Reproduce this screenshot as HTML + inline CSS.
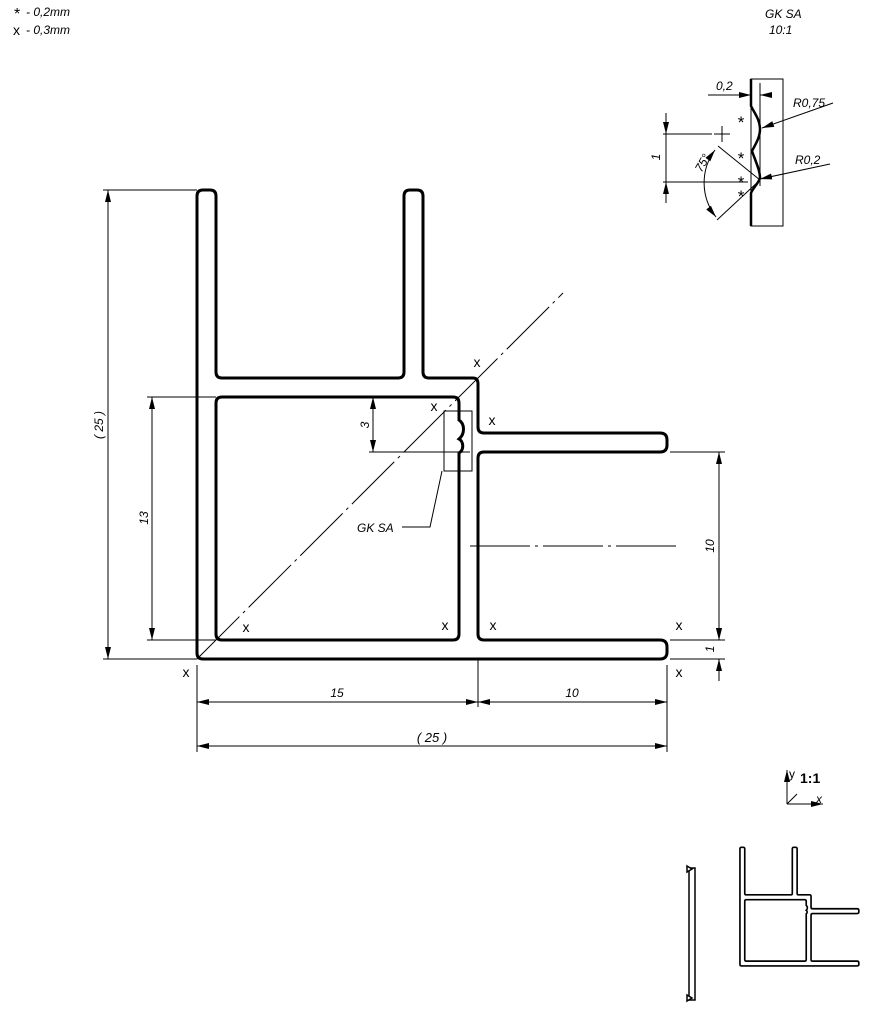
<!DOCTYPE html>
<html><head><meta charset="utf-8"><style>
html,body{margin:0;padding:0;background:#fff;}
svg{display:block;}
text{font-family:"Liberation Sans",sans-serif;fill:#000;}
.it{font-style:italic;font-size:12px;}
</style></head><body>
<svg width="873" height="1021" viewBox="0 0 873 1021" xmlns="http://www.w3.org/2000/svg">
<defs>
<marker id="a" markerWidth="12" markerHeight="6" refX="12" refY="3" orient="auto" markerUnits="userSpaceOnUse"><path d="M0,0 L12,3 L0,6 Z" fill="#000"/></marker>
<marker id="b" markerWidth="12" markerHeight="6" refX="0" refY="3" orient="auto" markerUnits="userSpaceOnUse"><path d="M12,0 L0,3 L12,6 Z" fill="#000"/></marker>
<g id="prof">
<path d="M197,653 V196 Q197,190 203,190 H210 Q216,190 216,196 V372 Q216,378 222,378 H398 Q404,378 404,372 V196 Q404,190 410,190 H417 Q423,190 423,196 V372 Q423,378 429,378 H473 Q478,378 478,384 V427 Q478,433 484,433 H660 Q667,433 667,440 V445 Q667,452 660,452 H484 Q478,452 478,458 V634 Q478,640 484,640 H660 Q667,640 667,647 V652 Q667,659 660,659 H203 Q197,659 197,653 Z"/>
<path d="M222,397 H453 Q459,397 459,403 V420 C465,424 465,434 459,439 C464,442 464,450 459,453 V634 Q459,640 453,640 H222 Q216,640 216,634 V403 Q216,397 222,397 Z"/>
</g>
</defs>

<text x="14" y="19" style="font-size:16px">*</text>
<text x="26" y="16" class="it">- 0,2mm</text>
<text x="13" y="35" style="font-size:14px">x</text>
<text x="26" y="34" class="it">- 0,3mm</text>
<text x="765" y="18" class="it">GK SA</text>
<text x="769" y="34" class="it">10:1</text>

<use href="#prof" fill="none" stroke="#000" stroke-width="3"/>

<g stroke="#000" stroke-width="1" fill="none">
<line x1="197" y1="659" x2="563" y2="293" stroke-dasharray="60,5,3,5"/>
<line x1="470" y1="546" x2="680" y2="546" stroke-dasharray="60,5,3,5"/>
<rect x="444" y="411" width="28" height="60"/>
<polyline points="442,471 430,527 402,527"/>
<line x1="103" y1="190" x2="197" y2="190"/>
<line x1="103" y1="659" x2="197" y2="659"/>
<line x1="108" y1="190" x2="108" y2="659" marker-start="url(#b)" marker-end="url(#a)"/>
<line x1="147" y1="397" x2="216" y2="397"/>
<line x1="147" y1="640" x2="216" y2="640"/>
<line x1="152" y1="397" x2="152" y2="640" marker-start="url(#b)" marker-end="url(#a)"/>
<line x1="373" y1="397" x2="373" y2="452" marker-start="url(#b)" marker-end="url(#a)"/>
<line x1="369" y1="452" x2="470" y2="452"/>
<line x1="670" y1="452" x2="725" y2="452"/>
<line x1="670" y1="640" x2="725" y2="640"/>
<line x1="670" y1="659" x2="725" y2="659"/>
<line x1="719" y1="452" x2="719" y2="640" marker-start="url(#b)" marker-end="url(#a)"/>
<line x1="719" y1="628" x2="719" y2="640" marker-end="url(#a)"/>
<line x1="719" y1="671" x2="719" y2="659" marker-end="url(#a)"/>
<line x1="719" y1="659" x2="719" y2="681"/>
<line x1="197" y1="665" x2="197" y2="752"/>
<line x1="478" y1="659" x2="478" y2="707"/>
<line x1="667" y1="665" x2="667" y2="752"/>
<line x1="197" y1="702" x2="478" y2="702" marker-start="url(#b)" marker-end="url(#a)"/>
<line x1="478" y1="702" x2="667" y2="702" marker-start="url(#b)" marker-end="url(#a)"/>
<line x1="197" y1="746" x2="667" y2="746" marker-start="url(#b)" marker-end="url(#a)"/>
</g>

<text class="it" transform="translate(103,425) rotate(-90)" text-anchor="middle">( 25 )</text>
<text class="it" transform="translate(148,518) rotate(-90)" text-anchor="middle">13</text>
<text class="it" transform="translate(369,425) rotate(-90)" text-anchor="middle">3</text>
<text class="it" transform="translate(714,546) rotate(-90)" text-anchor="middle">10</text>
<text class="it" transform="translate(714,649) rotate(-90)" text-anchor="middle">1</text>
<text class="it" x="337" y="697" text-anchor="middle">15</text>
<text class="it" x="572" y="697" text-anchor="middle">10</text>
<text class="it" x="432" y="742" text-anchor="middle" style="font-size:13px">( 25 )</text>
<text class="it" x="357" y="532">GK SA</text>

<g style="font-size:14px" text-anchor="middle">
<text x="477" y="367">x</text>
<text x="434" y="411">x</text>
<text x="492" y="425">x</text>
<text x="246" y="632">x</text>
<text x="445" y="630">x</text>
<text x="493" y="630">x</text>
<text x="679" y="630">x</text>
<text x="186" y="677">x</text>
<text x="679" y="677">x</text>
</g>

<g stroke="#000" fill="none" stroke-width="1">
<rect x="751" y="79" width="32" height="147"/>
<path d="M751,79 V106 C755,114 760,120 760,129 C760,138 755,145 752,151 C755,160 760,170 760,178 C758,184 753,188 751,193 V226" stroke-width="2.5"/>
<line x1="760" y1="83" x2="760" y2="186"/>
<line x1="708" y1="95" x2="751" y2="95" marker-end="url(#a)"/>
<line x1="772" y1="95" x2="760" y2="95" marker-end="url(#a)"/>
<line x1="833" y1="103" x2="762" y2="128" marker-end="url(#a)"/>
<line x1="830" y1="164" x2="760" y2="179" marker-end="url(#a)"/>
<line x1="663" y1="134" x2="712" y2="134"/>
<line x1="663" y1="182" x2="748" y2="182"/>
<line x1="666" y1="113" x2="666" y2="134" marker-end="url(#a)"/>
<line x1="666" y1="203" x2="666" y2="182" marker-end="url(#a)"/>
<line x1="666" y1="134" x2="666" y2="182"/>
<line x1="714" y1="134" x2="730" y2="134"/>
<line x1="722" y1="126" x2="722" y2="142"/>
<line x1="718" y1="146" x2="760" y2="180"/>
<line x1="717" y1="220" x2="760" y2="180"/>
<path d="M715,150 A55,55 0 0 0 716,217" marker-start="url(#b)" marker-end="url(#a)"/>
</g>
<text class="it" x="716" y="90">0,2</text>
<text class="it" x="793" y="107">R0,75</text>
<text class="it" x="795" y="164">R0,2</text>
<text class="it" transform="translate(660,157) rotate(-90)" text-anchor="middle">1</text>
<text class="it" transform="translate(706,165) rotate(-60)" text-anchor="middle">75°</text>
<g style="font-size:17px" text-anchor="middle">
<text x="741" y="128">*</text>
<text x="741" y="164">*</text>
<text x="741" y="188">*</text>
<text x="741" y="202">*</text>
</g>

<g stroke="#000" stroke-width="1" fill="none">
<line x1="787" y1="804" x2="823" y2="804" marker-end="url(#a)"/>
<line x1="787" y1="804" x2="787" y2="770" marker-end="url(#a)"/>
<line x1="787" y1="804" x2="797" y2="794"/>
</g>
<text x="789" y="778" style="font-size:12px">y</text>
<text x="800" y="783" style="font-size:14px;font-weight:bold">1:1</text>
<text x="816" y="803" class="it">x</text>

<g transform="translate(690.1,799.2) scale(0.253)">
<use href="#prof" fill="none" stroke="#000" stroke-width="6.5"/>
</g>
<g stroke="#000" fill="none" stroke-width="1.5">
<rect x="689" y="868" width="6" height="132"/>
<path d="M687,866 L692,869 L687,872 Z" fill="#fff"/>
<path d="M687,995 L692,998 L687,1001 Z" fill="#fff"/>
</g>
</svg>
</body></html>
